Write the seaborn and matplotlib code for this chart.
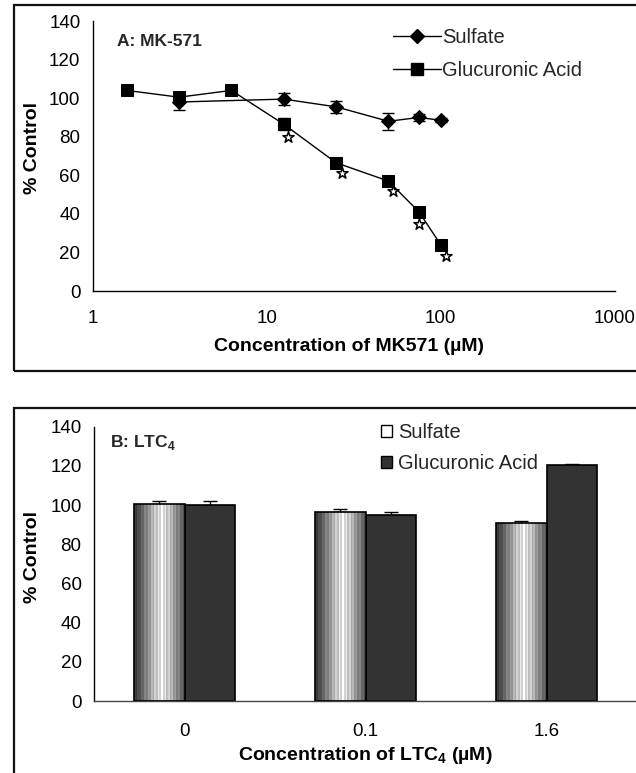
import numpy as np
import pandas as pd
import matplotlib
matplotlib.use("Agg")
import matplotlib.pyplot as plt
from matplotlib.patches import Rectangle, Patch
from matplotlib.lines import Line2D
import seaborn as sns

# ---------------- data: panel A (MK-571) ----------------
sulf_conc = [3.125, 12.5, 25, 50, 75, 100]
sulf_val = [98, 99.5, 95.5, 88, 90, 88.5]
sulf_err = [4, 3, 3, 4.5, 2, 1]

gluc_conc = [1.5625, 3.125, 6.25, 12.5, 25, 50, 75, 100]
gluc_val = [104, 100.5, 104, 86.5, 66.5, 57, 41, 24]
gluc_err = [1, 2, 1, 3, 2, 1.5, 1.5, 1.5]

star_conc = [13.3, 27, 53, 75, 107.5]
star_val = [80, 61, 52, 34.5, 18]

xticks_a = [1, 10, 100, 1000]
yticks = [0, 20, 40, 60, 80, 100, 120, 140]

# ---------------- data: panel B (LTC4) ----------------
ltc_cats = ["0", "0.1", "1.6"]
bar_sulf = [100.5, 96.5, 91]
bar_sulf_err = [1.5, 1.5, 0.7]
bar_gluc = [100, 95, 120.5]
bar_gluc_err = [2, 1.5, 0.7]

sns.set_theme(style="white")
plt.rcParams["font.family"] = ["Liberation Sans", "DejaVu Sans"]
plt.rcParams["mathtext.fontset"] = "custom"
plt.rcParams["mathtext.rm"] = "Liberation Sans"
plt.rcParams["mathtext.bf"] = "Liberation Sans:bold"

fig = plt.figure(figsize=(6.36, 7.73), dpi=100)
W, H = 636, 773

def ax_rect(l, r, t, b):
    return [l / W, 1 - b / H, (r - l) / W, (b - t) / H]

axA = fig.add_axes(ax_rect(93, 614.6, 21, 291))
axB = fig.add_axes(ax_rect(94, 637, 426.7, 701))

# frame boxes
fig.patches.append(Rectangle((14 / W, 1 - 371 / H), 1.2, (371 - 5) / H, transform=fig.transFigure,
                             fill=False, edgecolor="#111111", lw=1.6, zorder=0))
fig.patches.append(Rectangle((14 / W, -0.05), 1.2, (1 - 408 / H) + 0.05, transform=fig.transFigure,
                             fill=False, edgecolor="#111111", lw=1.6, zorder=0))

tick_fs = 13.5
lab_fs = 14
leg_fs = 14.5
panel_fs = 12.5

# ---------------- panel A ----------------
dfs = pd.DataFrame({"conc": sulf_conc, "val": sulf_val})
dfg = pd.DataFrame({"conc": gluc_conc, "val": gluc_val})
sns.lineplot(data=dfs, x="conc", y="val", ax=axA, color="black", lw=1.0, marker="D",
             markersize=7, markeredgecolor="black", markerfacecolor="black", label="Sulfate", zorder=3)
sns.lineplot(data=dfg, x="conc", y="val", ax=axA, color="black", lw=1.0, marker="s",
             markersize=8, markeredgecolor="black", markerfacecolor="black", label="Glucuronic Acid", zorder=3)
axA.errorbar(sulf_conc, sulf_val, yerr=sulf_err, fmt="none", ecolor="black", elinewidth=1,
             capsize=4.3, capthick=1, zorder=2)
axA.errorbar(gluc_conc, gluc_val, yerr=gluc_err, fmt="none", ecolor="black", elinewidth=1,
             capsize=4.3, capthick=1, zorder=2)
sns.scatterplot(x=star_conc, y=star_val, ax=axA, marker="*", s=70, facecolor="white",
                edgecolor="black", linewidth=1.1, zorder=4)

axA.set_xscale("log")
axA.set_xlim(1, 1000)
axA.set_ylim(0, 140)
axA.set_xticks(xticks_a)
axA.set_xticklabels([str(v) for v in xticks_a])
axA.xaxis.set_minor_locator(matplotlib.ticker.NullLocator())
axA.set_yticks(yticks)
axA.set_yticklabels([str(v) for v in yticks])
for s in ["top", "right"]:
    axA.spines[s].set_visible(False)
for s in ["left", "bottom"]:
    axA.spines[s].set_color("black")
    axA.spines[s].set_linewidth(1.0)
axA.tick_params(axis="both", which="major", direction="out", length=4.5, width=1, color="black",
                labelsize=tick_fs, labelcolor="black")
axA.tick_params(axis="y", pad=4.5)
axA.tick_params(axis="x", pad=9.5)
axA.set_xlabel("Concentration of MK571 (\u00b5M)", fontsize=lab_fs, fontweight="bold", color="black")
axA.set_ylabel("% Control", fontsize=lab_fs, fontweight="bold", color="black")
axA.yaxis.set_label_coords(-0.1, 0.53)
axA.xaxis.set_label_coords(0.49, -0.175)
axA.text(117 / W, 1 - 41 / H, "A: MK-571", transform=fig.transFigure, fontsize=panel_fs,
         fontweight="bold", va="center", ha="left")
axA.legend(handles=[Line2D([], [], color="black", lw=1, marker="D", markersize=7),
                    Line2D([], [], color="black", lw=1, marker="s", markersize=8)],
           labels=["Sulfate", "Glucuronic Acid"], loc="upper left",
           bbox_to_anchor=((392.7 - 93) / 521.6, (291 - 28) / 270), frameon=False,
           fontsize=leg_fs, handlelength=2.4, handletextpad=0.05, labelspacing=0.68,
           borderpad=0, borderaxespad=0)

# ---------------- panel B ----------------
dfb = pd.DataFrame({
    "conc": ltc_cats * 2,
    "val": bar_sulf + bar_gluc,
    "agent": ["Sulfate"] * 3 + ["Glucuronic Acid"] * 3,
})
sns.barplot(data=dfb, x="conc", y="val", hue="agent", order=ltc_cats,
            hue_order=["Sulfate", "Glucuronic Acid"],
            palette={"Sulfate": "white", "Glucuronic Acid": "#333333"},
            width=0.555, gap=0, saturation=1, errorbar=None, edgecolor="black",
            linewidth=1.2, ax=axB, legend=False, zorder=2)

# gradient fill for sulfate bars (Excel-like striped gradient)
t = (np.arange(30) + 0.5) / 30
prof = 1 - 0.75 * np.clip(np.abs((t - 0.55) / 0.5), 0, 1) ** 1.1
prof = prof * np.where(np.arange(30) % 2 == 0, 1.0, 0.85)
grad = prof[np.newaxis, :]
for patch in axB.containers[0]:
    x0, y0 = patch.get_x(), patch.get_y()
    w, h = patch.get_width(), patch.get_height()
    im = axB.imshow(grad, cmap="gray", vmin=0, vmax=1, aspect="auto", interpolation="nearest",
                    extent=(x0, x0 + w, y0, y0 + h), zorder=2.5)
    im.set_clip_path(patch)
    patch.set_zorder(2.6)
    patch.set_facecolor("none")

for cont, err in zip(axB.containers, [bar_sulf_err, bar_gluc_err]):
    xs = [p.get_x() + p.get_width() / 2 for p in cont]
    ys = [p.get_height() for p in cont]
    axB.errorbar(xs, ys, yerr=[np.zeros(len(err)), err], fmt="none", ecolor="black",
                 elinewidth=1, capsize=4.8, capthick=1, zorder=1.5)

axB.set_xlim(-0.5, 2.5)
axB.set_ylim(0, 140)
axB.set_yticks(yticks)
axB.set_yticklabels([str(v) for v in yticks])
axB.set_xticks(range(3))
axB.set_xticklabels(ltc_cats)
axB.set_xticks([-0.5, 0.5, 1.5, 2.5], minor=True)
for s in ["top", "right"]:
    axB.spines[s].set_visible(False)
axB.spines["left"].set_color("black")
axB.spines["bottom"].set_color("#444444")
axB.spines["left"].set_linewidth(1.0)
axB.spines["bottom"].set_linewidth(1.0)
axB.tick_params(axis="y", which="major", direction="out", length=4.5, width=1, color="black",
                labelsize=tick_fs, labelcolor="black", pad=4.5)
axB.tick_params(axis="x", which="major", length=0, labelsize=tick_fs, labelcolor="black", pad=15.5)
axB.tick_params(axis="x", which="minor", direction="out", length=5, width=1, color="#444444")
axB.set_xlabel("Concentration of LTC$_\\mathbf{4}$ (\u00b5M)", fontsize=lab_fs, fontweight="bold",
               color="black")
axB.xaxis.set_label_coords(0.5, -0.16)
axB.set_ylabel("% Control", fontsize=lab_fs, fontweight="bold", color="black")
axB.yaxis.set_label_coords(-0.098, 0.526)
axB.text(110 / W, 1 - 443 / H, "B: LTC$_\\mathbf{4}$", transform=fig.transFigure, fontsize=panel_fs,
         fontweight="bold", va="center", ha="left")

leg_handles = [Patch(facecolor="white", edgecolor="black", lw=1.0),
               Patch(facecolor="#333333", edgecolor="black", lw=1.0)]
axB.legend(handles=leg_handles, labels=["Sulfate", "Glucuronic Acid"], loc="upper left",
           bbox_to_anchor=((381 - 94) / 543, (701 - 423) / 274.3), frameon=False, fontsize=leg_fs,
           handlelength=0.55, handleheight=0.55, handletextpad=0.3, labelspacing=0.6,
           borderpad=0, borderaxespad=0)

fig.savefig("out.png", dpi=100, facecolor="white")
